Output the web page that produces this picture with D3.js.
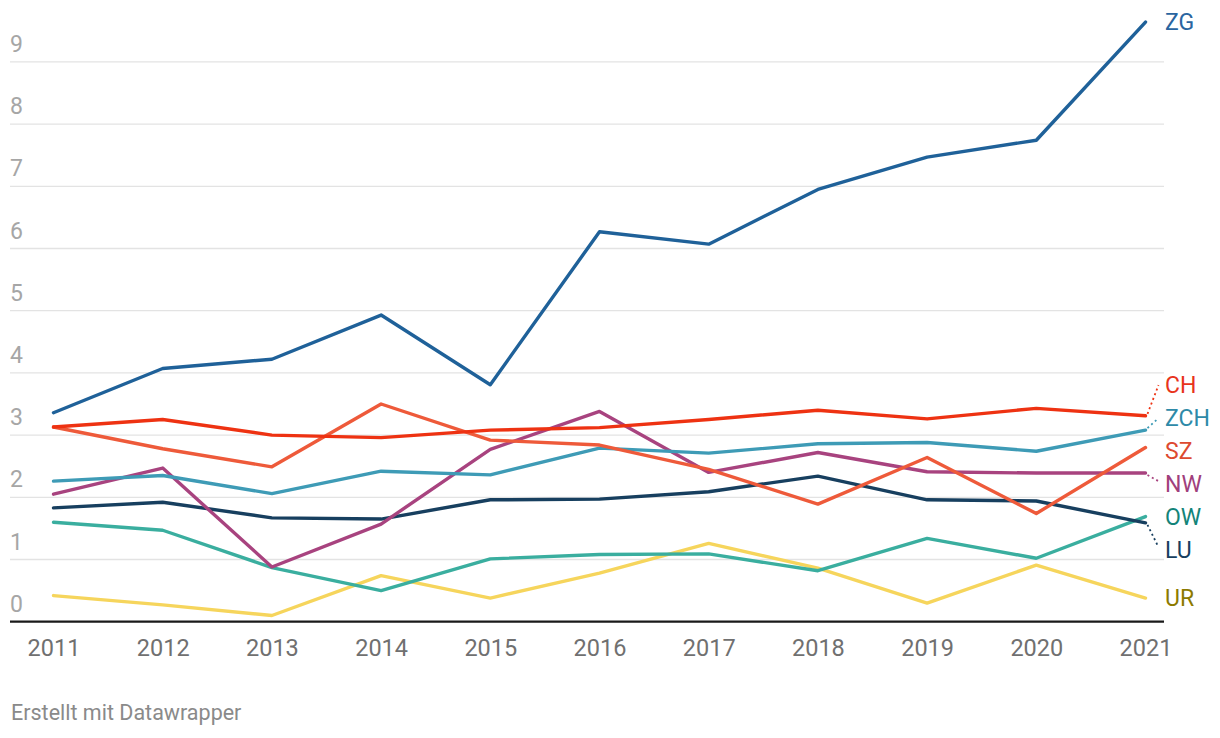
<!DOCTYPE html>
<html>
<head>
<meta charset="utf-8">
<script src="https://cdn.jsdelivr.net/npm/d3@7"></script>
<style>
  html, body { margin: 0; padding: 0; background: #fff; }
  svg { display: block; font-family: Roboto, "Noto Sans", sans-serif; }
</style>
</head>
<body>
<svg id="chart" width="1220" height="738"></svg>
<script>
const years = [2011, 2012, 2013, 2014, 2015, 2016, 2017, 2018, 2019, 2020, 2021];
const yTicks = [0, 1, 2, 3, 4, 5, 6, 7, 8, 9];

const seriesNames = ["UR", "OW", "LU", "NW", "ZCH", "SZ", "CH", "ZG"];
const UR  = [0.42, 0.27, 0.10, 0.74, 0.38, 0.78, 1.26, 0.86, 0.30, 0.91, 0.38];
const OW  = [1.60, 1.47, 0.87, 0.50, 1.01, 1.08, 1.09, 0.82, 1.34, 1.02, 1.69];
const LU  = [1.83, 1.92, 1.67, 1.65, 1.96, 1.97, 2.09, 2.34, 1.96, 1.94, 1.59];
const NW  = [2.05, 2.47, 0.88, 1.57, 2.77, 3.38, 2.40, 2.72, 2.41, 2.39, 2.39];
const ZCH = [2.26, 2.35, 2.06, 2.42, 2.36, 2.79, 2.71, 2.86, 2.88, 2.74, 3.08];
const SZ  = [3.13, 2.78, 2.49, 3.50, 2.92, 2.84, 2.45, 1.89, 2.64, 1.74, 2.80];
const CH  = [3.13, 3.25, 3.00, 2.96, 3.08, 3.12, 3.25, 3.40, 3.26, 3.43, 3.31];
const ZG  = [3.36, 4.07, 4.22, 4.93, 3.81, 6.27, 6.07, 6.95, 7.47, 7.74, 9.64];
const seriesValues = { UR, OW, LU, NW, ZCH, SZ, CH, ZG };

const lineColors  = { UR: "#f6d55c", OW: "#3aae9f", LU: "#173f5f", NW: "#a8437f", ZCH: "#3e9bb6", SZ: "#ee5a3a", CH: "#ee3212", ZG: "#1f6199" };
const labelColors = { UR: "#8c7a00", OW: "#138479", LU: "#173f5f", NW: "#a0407c", ZCH: "#2e8aa8", SZ: "#dd4a30", CH: "#e8341c", ZG: "#2a65a0" };

const svg = d3.select("#chart");
const gridLeft = 10, gridRight = 1164;
const x = d3.scaleLinear().domain([2011, 2021]).range([53.5, 1145.5]);
const y = d3.scaleLinear().domain([0, 9]).range([621.7, 61.9]);

// gridlines
const grid = svg.append("g");
grid.selectAll("line").data(yTicks.filter(d => d > 0)).join("line")
  .attr("x1", gridLeft).attr("x2", gridRight)
  .attr("y1", d => y(d)).attr("y2", d => y(d))
  .attr("stroke", "#e3e3e3").attr("stroke-width", 1.3);

// y tick labels
svg.append("g").selectAll("text").data(yTicks).join("text")
  .attr("x", gridLeft).attr("y", d => y(d) - 10)
  .attr("font-size", 23).attr("fill", "#a6a6a6")
  .text(d => d);

// x axis
const xAxis = d3.axisBottom(x).tickValues(years).tickFormat(d3.format("d")).tickSize(0).tickPadding(0);
const gx = svg.append("g").attr("transform", `translate(0,${y(0)})`).call(xAxis);
gx.select(".domain").remove();
gx.selectAll("text").attr("font-size", 23.5).attr("fill", "#707070")
  .attr("font-family", "Roboto, sans-serif").attr("dy", null).attr("y", 34);
svg.append("line").attr("x1", gridLeft).attr("x2", gridRight)
  .attr("y1", y(0)).attr("y2", y(0)).attr("stroke", "#1a1a1a").attr("stroke-width", 2.2);

// lines
const line = d3.line().x((d, i) => x(years[i])).y(d => y(d));
svg.append("g").selectAll("path").data(seriesNames).join("path")
  .attr("d", s => line(seriesValues[s]))
  .attr("fill", "none").attr("stroke", s => lineColors[s])
  .attr("stroke-width", 3.4).attr("stroke-linejoin", "round").attr("stroke-linecap", "round");

// label placement with collision avoidance
const gap = 33;
let labels = seriesNames.map(s => ({ name: s, orig: y(seriesValues[s][years.length - 1]) }))
  .sort((a, b) => a.orig - b.orig);
let groups = labels.map(l => [l]);
function place(g) {
  const c = d3.mean(g, l => l.orig);
  g.forEach((l, i) => l.pos = c + (i - (g.length - 1) / 2) * gap);
}
groups.forEach(place);
let changed = true;
while (changed) {
  changed = false;
  for (let i = 0; i < groups.length - 1; i++) {
    const a = groups[i], b = groups[i + 1];
    if (a[a.length - 1].pos + gap > b[0].pos) {
      const m = a.concat(b); place(m);
      groups.splice(i, 2, m); changed = true; break;
    }
  }
}

const xEnd = x(2021);
const lg = svg.append("g");
labels.forEach(l => {
  if (Math.abs(l.pos - l.orig) > 6) {
    lg.append("line")
      .attr("x1", xEnd + 2).attr("y1", l.orig + (l.pos < l.orig ? -2 : 2))
      .attr("x2", xEnd + 13).attr("y2", l.pos + (l.pos < l.orig ? 0 : -3))
      .attr("stroke", lineColors[l.name]).attr("stroke-width", 1.8)
      .attr("stroke-dasharray", "2,3");
  }
  lg.append("text").attr("x", 1165).attr("y", l.pos).attr("dy", "0.36em")
    .attr("font-size", 23).attr("fill", labelColors[l.name]).text(l.name);
});

// footer
svg.append("text").attr("x", 11).attr("y", 720)
  .attr("font-size", 21.5).attr("fill", "#8a8a8a")
  .text("Erstellt mit Datawrapper");
</script>
</body>
</html>
